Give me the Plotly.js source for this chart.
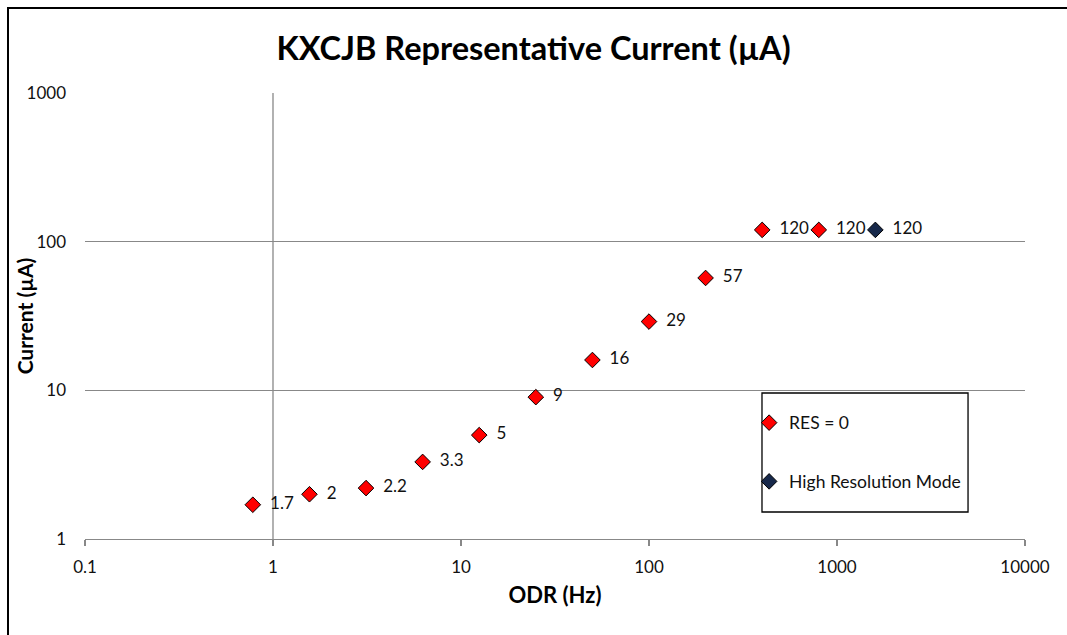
<!DOCTYPE html>
<html>
<head>
<meta charset="utf-8">
<script src="https://cdn.plot.ly/plotly-3.0.1.min.js"></script>
<style>
  html, body { margin: 0; padding: 0; background: #fff; }
  #wrap { position: relative; width: 1067px; height: 635px; overflow: hidden; }
  #chart { width: 1067px; height: 635px; }
  #frame { position: absolute; left: 7px; top: 7px; right: -10px; bottom: -10px;
           border-left: 2px solid #000; border-top: 2px solid #000; pointer-events: none; }
</style>
</head>
<body>
<div id="wrap">
  <div id="chart"></div>
  <div id="frame"></div>
</div>
<script>
// Data
const odrRes0 = [0.781, 1.563, 3.125, 6.25, 12.5, 25, 50, 100, 200, 400, 800];
const currentRes0 = [1.7, 2, 2.2, 3.3, 5, 9, 16, 29, 57, 120, 120];
const labelsRes0 = ["1.7", "2", "2.2", "3.3", "5", "9", "16", "29", "57", "120", "120"];

const odrHiRes = [1600];
const currentHiRes = [120];
const labelsHiRes = ["120"];

const xTickVals = [0.1, 1, 10, 100, 1000, 10000];
const xTickText = ["0.1", "1", "10", "100", "1000", "10000"];
const yTickVals = [1, 10, 100, 1000];
const yTickText = ["1", "10", "100", "1000"];

const FONT = "Lato, 'Open Sans', sans-serif";

const traces = [
  {
    x: odrRes0, y: currentRes0, text: labelsRes0,
    name: "RES = 0", type: "scatter", mode: "markers+text",
    textposition: "middle right", texttemplate: "  %{text}",
    textfont: { family: FONT, size: 17, color: "#111" },
    marker: { symbol: "diamond", size: 12, color: "#FF0000", line: { color: "#000", width: 1 } },
    legendgroup: "a", cliponaxis: false
  },
  {
    x: odrHiRes, y: currentHiRes, text: labelsHiRes,
    name: "High Resolution Mode", type: "scatter", mode: "markers+text",
    textposition: "middle right", texttemplate: "  %{text}",
    textfont: { family: FONT, size: 17, color: "#111" },
    marker: { symbol: "diamond", size: 12, color: "#17284A", line: { color: "#000", width: 1 } },
    legendgroup: "b", cliponaxis: false
  }
];

const layout = {
  width: 1067, height: 635,
  margin: { l: 85, r: 42, t: 93, b: 96 },
  paper_bgcolor: "#fff", plot_bgcolor: "#fff",
  font: { family: FONT, size: 17, color: "#111" },
  title: {
    text: "<b>KXCJB Representative Current (µA)</b>",
    font: { family: FONT, size: 32.5, color: "#000" },
    x: 0.5, xref: "container", xanchor: "center",
    y: 0.924, yref: "container", yanchor: "middle"
  },
  xaxis: {
    type: "log", range: [-1, 4],
    tickvals: xTickVals, ticktext: xTickText,
    showgrid: false, zeroline: false,
    showline: true, linecolor: "#888", linewidth: 1.3,
    ticks: "outside", ticklen: 6, tickcolor: "#888", tickwidth: 1.3,
    ticklabelstandoff: 6,
    tickfont: { family: FONT, size: 17, color: "#111" },
    title: { text: "<b>ODR (Hz)</b>", font: { family: FONT, size: 22, color: "#000" }, standoff: 12 }
  },
  yaxis: {
    type: "log", range: [0, 3],
    tickvals: yTickVals, ticktext: yTickText,
    showgrid: true, gridcolor: "#888", gridwidth: 1.3,
    zeroline: false, showline: false, ticks: "",
    ticklabelstandoff: 18,
    tickfont: { family: FONT, size: 17, color: "#111" }
  },
  annotations: [
    { text: "<b>Current (µA)</b>", xref: "paper", yref: "paper", x: -0.0645, y: 0.5,
      xanchor: "center", yanchor: "middle", textangle: -90, showarrow: false,
      font: { family: FONT, size: 21, color: "#000" } }
  ],
  shapes: [
    { type: "line", xref: "x", yref: "paper", x0: 1, x1: 1, y0: 0, y1: 1,
      line: { color: "#888", width: 1.3 }, layer: "below" },
    { type: "rect", xref: "paper", yref: "paper", x0: 0.7202, x1: 0.9394, y0: 0.0605, y1: 0.3274,
      line: { color: "#000", width: 1.3 }, fillcolor: "#fff", layer: "below" }
  ],
  showlegend: true,
  legend: {
    x: 0.7065, xanchor: "left", y: 0.301, yanchor: "top",
    bgcolor: "rgba(0,0,0,0)", borderwidth: 0,
    font: { family: FONT, size: 17.5, color: "#111" },
    traceorder: "grouped", tracegroupgap: 33,
    itemwidth: 30
  }
};

Plotly.newPlot("chart", traces, layout, { displayModeBar: false, staticPlot: true });
</script>
</body>
</html>
